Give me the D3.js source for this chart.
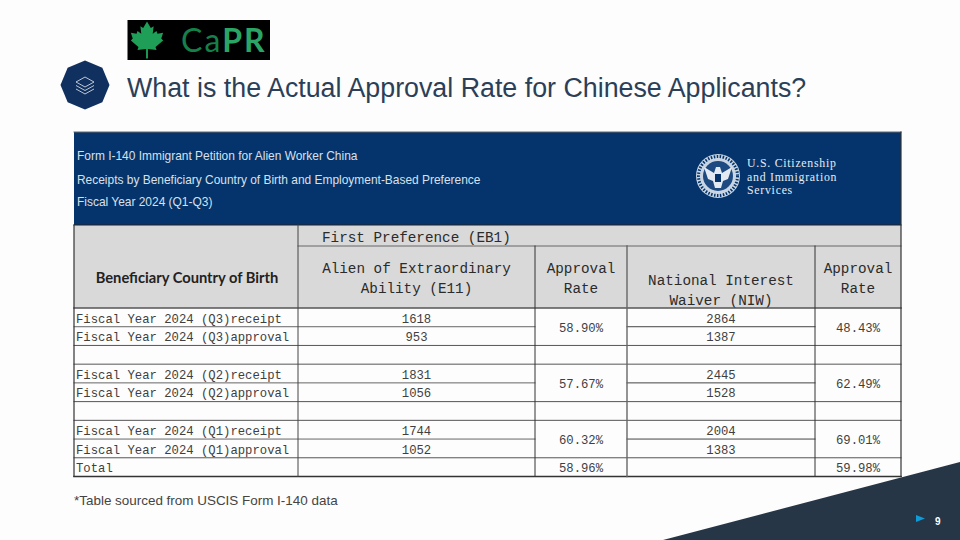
<!doctype html>
<html>
<head>
<meta charset="utf-8">
<script src="https://cdnjs.cloudflare.com/ajax/libs/d3/7.8.5/d3.min.js"></script>
<style>
	html, body { margin: 0; padding: 0; background: #fdfdfd; }
	svg { display: block; }
	text { font-family: "Liberation Mono", monospace; }
	.sans { font-family: "Liberation Sans", sans-serif; }
</style>
</head>
<body>
<svg id="slide" width="960" height="540"></svg>
<script>
// table content
var slideTitle = "What is the Actual Approval Rate for Chinese Applicants?";
var bannerLines = [
	"Form I-140 Immigrant Petition for Alien Worker China",
	"Receipts by Beneficiary Country of Birth and Employment-Based Preference",
	"Fiscal Year 2024 (Q1-Q3)"
];
var agencyLines = ["U.S. Citizenship", "and Immigration", "Services"];
var quarters = ["Q3", "Q2", "Q1"];
var e11Receipts = [1618, 1831, 1744];
var e11Approvals = [953, 1056, 1052];
var e11Rates = [58.90, 57.67, 60.32];
var niwReceipts = [2864, 2445, 2004];
var niwApprovals = [1387, 1528, 1383];
var niwRates = [48.43, 62.49, 69.01];
var e11Total = 58.96;
var niwTotal = 59.98;
var footnote = "*Table sourced from USCIS Form I-140 data";
var pageNumber = "9";

var svg = d3.select("#slide");
var rate = function (v) { return d3.format(".2f")(v) + "%"; };

// rows: two per quarter + spacer, the last spacer is replaced by Total
var rowKeys = d3.range(9);
var y = d3.scaleBand().domain(rowKeys).range([308, 476.5]);
// column edges
var colEdges = ["left", "e11", "e11rate", "niw", "niwrate", "right"];
var x = d3.scaleOrdinal().domain(colEdges).range([74, 298, 535, 627, 815, 901]);
var mid = function (a, b) { return (x(a) + x(b)) / 2; };

// corner shape and footer
svg.append("polygon").attr("points", "663,540 960,462 960,540").attr("fill", "#263646");
svg.append("polygon").attr("points", "916,515 925,518.5 916,522").attr("fill", "#0f9bd7");
svg.append("text").attr("class", "sans").attr("x", 935).attr("y", 524.5)
	.attr("font-size", 10).attr("font-weight", "bold").attr("fill", "#fff").text(pageNumber);

// logo
svg.append("rect").attr("x", 127.5).attr("y", 20).attr("width", 142.5).attr("height", 40).attr("fill", "#000");
var leaf = svg.append("g").attr("transform", "translate(147,38.5) scale(0.95)");
leaf.append("path").attr("fill", "#1e9e57")
	.attr("d", "M0,-18 L4,-11 L7,-13 L6,-5 L10,-8 L11,-5 L17,-6 L15,0 L17,2 L9,9 L10,12 L1,11 L1,21 L-1,21 L-1,11 L-10,12 L-9,9 L-17,2 L-15,0 L-17,-6 L-11,-5 L-10,-8 L-6,-5 L-7,-13 L-4,-11 Z");
var logoText = svg.append("text").attr("x", 181).attr("y", 52)
	.attr("font-size", 32).style("font-family", "Lato, sans-serif").style("letter-spacing", "2px");
logoText.append("tspan").attr("fill", "#15814a").text("Ca");
logoText.append("tspan").attr("fill", "#2aa565").attr("font-weight", "bold").text("PR");

// octagon badge with layers icon
var octagon = d3.range(8).map(function (i) {
	var a = i * Math.PI / 4;
	return [85 + 24.5 * Math.cos(a), 85 + 24.5 * Math.sin(a)];
});
svg.append("polygon").attr("points", octagon.join(" ")).attr("fill", "#10305f");
var layers = svg.append("g").attr("fill", "none").attr("stroke", "#e8edf4").attr("stroke-width", 0.8);
layers.append("path").attr("d", "M85,77 L94,82 L85,87 L76,82 Z");
layers.append("path").attr("d", "M76,85.5 L85,90.5 L94,85.5");
layers.append("path").attr("d", "M76,89 L85,94 L94,89");

svg.append("text").attr("class", "sans").attr("x", 127).attr("y", 97)
	.attr("font-size", 26.8).attr("fill", "#2b4058").text(slideTitle);

// blue banner
svg.append("rect").attr("x", x("left")).attr("y", 132).attr("width", x("right") - x("left")).attr("height", 93)
	.attr("fill", "#04346b");
svg.append("g").selectAll("text").data(bannerLines).join("text")
	.attr("class", "sans").attr("x", 77)
	.attr("y", function (d, i) { return [160, 184, 206][i]; })
	.attr("font-size", 11.95).attr("fill", "#d9e0ea").text(function (d) { return d; });

// seal
var seal = svg.append("g").attr("transform", "translate(718,176)");
seal.append("circle").attr("r", 22).attr("fill", "#c9d5e3");
seal.append("circle").attr("r", 19.5).attr("fill", "none").attr("stroke", "#04346b").attr("stroke-width", 3).attr("stroke-dasharray", "1.5 1.5");
seal.append("circle").attr("r", 15).attr("fill", "#1d4a80");
seal.append("path").attr("fill", "#e4eaf2").attr("d", "M-14,-9 L-4,-3 L-2,-9 L2,-9 L4,-3 L14,-9 L10,3 L5,5 L3,12 L-3,12 L-5,5 L-10,3 Z");
seal.append("rect").attr("x", -3).attr("y", -2).attr("width", 6).attr("height", 8).attr("fill", "#04346b");
svg.append("g").selectAll("text").data(agencyLines).join("text")
	.attr("x", 747).attr("y", function (d, i) { return 167 + i * 13.5; })
	.style("font-family", "'Liberation Serif', serif").style("letter-spacing", "0.75px")
	.attr("font-size", 11.8).attr("fill", "#e6ebf2").text(function (d) { return d; });

// grey header block
svg.append("rect").attr("x", x("left")).attr("y", 225).attr("width", x("right") - x("left")).attr("height", 83)
	.attr("fill", "#d9d9d9");

var headers = [
	{ t: "First Preference (EB1)", x: 322, y: 242, a: "start" },
	{ t: "Alien of Extraordinary", x: mid("e11", "e11rate"), y: 273, a: "middle" },
	{ t: "Ability (E11)", x: mid("e11", "e11rate"), y: 293, a: "middle" },
	{ t: "Approval", x: mid("e11rate", "niw"), y: 273, a: "middle" },
	{ t: "Rate", x: mid("e11rate", "niw"), y: 293, a: "middle" },
	{ t: "National Interest", x: mid("niw", "niwrate"), y: 285, a: "middle" },
	{ t: "Waiver (NIW)", x: mid("niw", "niwrate"), y: 305, a: "middle" },
	{ t: "Approval", x: mid("niwrate", "right"), y: 273, a: "middle" },
	{ t: "Rate", x: mid("niwrate", "right"), y: 293, a: "middle" }
];
svg.append("g").selectAll("text").data(headers).join("text")
	.attr("x", function (d) { return d.x; }).attr("y", function (d) { return d.y; })
	.attr("text-anchor", function (d) { return d.a; })
	.attr("font-size", 14.3).attr("fill", "#2b2b2b").text(function (d) { return d.t; });
svg.append("text").attr("x", mid("left", "e11") + 1).attr("y", 283).attr("text-anchor", "middle")
	.style("font-family", "Lato, sans-serif").attr("font-size", 14.7).attr("font-weight", "bold")
	.attr("fill", "#222").text("Beneficiary Country of Birth");

// body cells
var cells = [];
quarters.forEach(function (q, i) {
	var r = i * 3;
	cells.push({ t: "Fiscal Year 2024 (" + q + ")receipt", r: r, label: true });
	cells.push({ t: "Fiscal Year 2024 (" + q + ")approval", r: r + 1, label: true });
	cells.push({ t: e11Receipts[i], r: r, c: ["e11", "e11rate"] });
	cells.push({ t: e11Approvals[i], r: r + 1, c: ["e11", "e11rate"] });
	cells.push({ t: niwReceipts[i], r: r, c: ["niw", "niwrate"] });
	cells.push({ t: niwApprovals[i], r: r + 1, c: ["niw", "niwrate"] });
	cells.push({ t: rate(e11Rates[i]), r: r + 0.5, c: ["e11rate", "niw"] });
	cells.push({ t: rate(niwRates[i]), r: r + 0.5, c: ["niwrate", "right"] });
});
cells.push({ t: "Total", r: 8, label: true });
cells.push({ t: rate(e11Total), r: 8, c: ["e11rate", "niw"] });
cells.push({ t: rate(niwTotal), r: 8, c: ["niwrate", "right"] });

svg.append("g").selectAll("text").data(cells).join("text")
	.attr("x", function (d) { return d.label ? 76 : mid(d.c[0], d.c[1]); })
	.attr("y", function (d) { return y(0) + d.r * y.step() + 14.5; })
	.attr("text-anchor", function (d) { return d.label ? "start" : "middle"; })
	.attr("font-size", 12.25).attr("fill", "#3f3f3f").text(function (d) { return d.t; });

// rules
var rules = svg.append("g").attr("stroke-linecap", "square");
function hline(x1, x2, yy, color, w) {
	rules.append("line").attr("x1", x1).attr("x2", x2).attr("y1", yy).attr("y2", yy)
		.attr("stroke", color).attr("stroke-width", w);
}
function vline(xx, y1, y2, color, w) {
	rules.append("line").attr("x1", xx).attr("x2", xx).attr("y1", y1).attr("y2", y2)
		.attr("stroke", color).attr("stroke-width", w);
}
rowKeys.slice(1).forEach(function (r) {
	var split = r % 3 === 1;   // receipt/approval split: rate columns are merged
	if (split) {
		hline(x("left"), x("e11rate"), y(r), "#666", 1);
		hline(x("niw"), x("niwrate"), y(r), "#444", 1);
	} else {
		hline(x("left"), x("right"), y(r), "#555", 1);
	}
});
hline(x("e11"), x("right"), 246, "#666", 1);
hline(x("left"), x("right"), 225, "#222", 1.2);
hline(x("left"), x("right"), 308, "#555", 1.6);
hline(x("left"), x("right"), 476.5, "#333", 1.6);
hline(x("left"), x("right"), 132, "#666", 1);
vline(x("left"), 225, 476.5, "#333", 1.2);
vline(x("right"), 132, 476.5, "#333", 1.2);
vline(x("e11"), 225, 476.5, "#444", 1);
["e11rate", "niw", "niwrate"].forEach(function (c) {
	vline(x(c), 246, 476.5, c === "niw" ? "#666" : "#333", c === "niw" ? 1.4 : 1);
});

svg.append("text").attr("class", "sans").attr("x", 74).attr("y", 505)
	.attr("font-size", 13.45).attr("fill", "#444").text(footnote);
</script>
</body>
</html>
